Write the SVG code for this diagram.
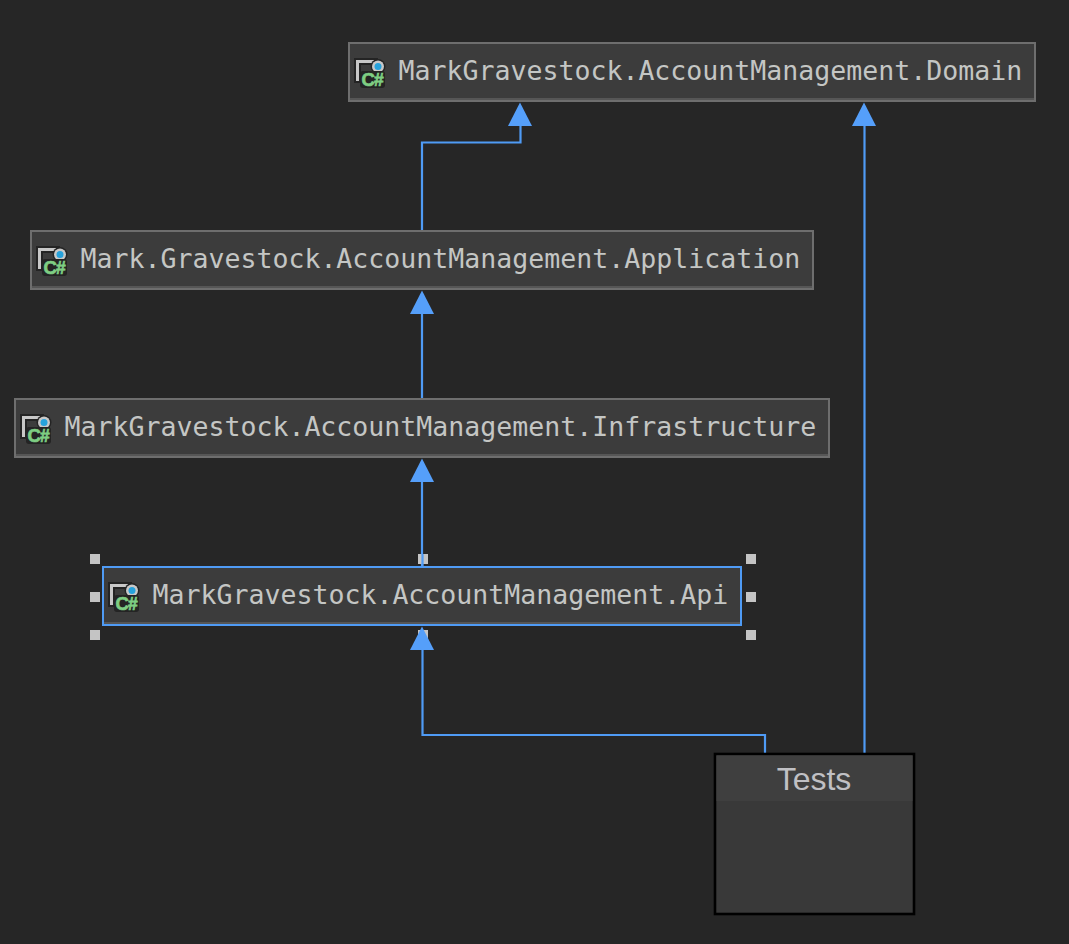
<svg xmlns="http://www.w3.org/2000/svg" width="1069" height="944" viewBox="0 0 1069 944">
<style>
.box{fill:#3c3c3c;stroke:#6e6e6e;stroke-width:2}
.sel{fill:#3c3c3c;stroke:#4f9bf5;stroke-width:2}
.shade{fill:#565656}
.lbl{font-family:"DejaVu Sans Mono","Liberation Mono",monospace;font-size:26.57px;fill:#c4c6c4}
.wire{fill:none;stroke:#4f9bf5;stroke-width:2.200}
.head{fill:#559ffa}
.handle{fill:#c4c4c4}
.ic{font-family:"Liberation Sans",Arial,sans-serif;font-weight:700;fill:#7ece83;stroke:#7ece83;stroke-width:.7px}
</style>
<defs>
<g id="cs">
<path d="M0 1H24V8H7V26H0Z" fill="#242424"/>
<path d="M2 3H20V6H5V24H2Z" fill="#c8c8c8"/>
<circle cx="24" cy="9.500" r="7.500" fill="#242424"/>
<circle cx="24" cy="9.500" r="6" fill="#c8c8c8"/>
<circle cx="24" cy="9.500" r="3.500" fill="#27a2dc"/>
<rect x="6" y="14" width="25" height="17" rx="3" fill="#242424"/>
<text class="ic" x="7.500" y="29" style="font-size:18.500px">C</text>
<text class="ic" x="20" y="28.500" style="font-size:17.500px">#</text>
</g>
</defs>
<rect width="1069" height="944" fill="#262626"/>
<g id="connectors">
<path class="wire" d="M422 231V142.500H520.500V122"/>
<path class="head" d="M520 102.500L532 126H508Z"/>
<path class="wire" d="M864.500 754V122"/>
<path class="head" d="M864 102.500L876 126H852Z"/>
<path class="wire" d="M422 399V310"/>
<path class="head" d="M422 290.500L434 314H410Z"/>
<path class="wire" d="M422 567V478"/>
<path class="head" d="M422 458.500L434 482H410Z"/>
<path class="wire" d="M765 754V735H422.500V646"/>
</g>
<g id="node-domain">
<rect class="box" x="349" y="43" width="686" height="58"/>
<rect class="shade" x="350" y="98" width="684" height="2"/>
<use href="#cs" x="354" y="57"/>
<text class="lbl" x="398.500" y="80">MarkGravestock.AccountManagement.Domain</text>
</g>
<g id="node-application">
<rect class="box" x="31" y="231" width="782" height="58"/>
<rect class="shade" x="32" y="286" width="780" height="2"/>
<use href="#cs" x="36" y="245"/>
<text class="lbl" x="80.500" y="268">Mark.Gravestock.AccountManagement.Application</text>
</g>
<g id="node-infrastructure">
<rect class="box" x="15" y="399" width="814" height="58"/>
<rect class="shade" x="16" y="454" width="812" height="2"/>
<use href="#cs" x="20" y="413"/>
<text class="lbl" x="64.500" y="436">MarkGravestock.AccountManagement.Infrastructure</text>
</g>
<g id="node-api">
<rect class="sel" x="103" y="567" width="638" height="58"/>
<rect class="shade" x="104" y="622" width="636" height="2"/>
<use href="#cs" x="108" y="581"/>
<text class="lbl" x="152.500" y="604">MarkGravestock.AccountManagement.Api</text>
<g id="selection-handles">
<rect class="handle" x="90" y="554" width="10" height="10"/>
<rect class="handle" x="418" y="554" width="10" height="10"/>
<rect class="handle" x="746" y="554" width="10" height="10"/>
<rect class="handle" x="90" y="592" width="10" height="10"/>
<rect class="handle" x="746" y="592" width="10" height="10"/>
<rect class="handle" x="90" y="630" width="10" height="10"/>
<rect class="handle" x="418" y="630" width="10" height="10"/>
<rect class="handle" x="746" y="630" width="10" height="10"/>
</g>
</g>
<path class="wire" d="M422.500 554V567"/>
<path class="head" d="M422 626.500L434 650H410Z"/>
<g id="node-tests">
<rect x="715" y="754" width="199" height="160" fill="#393939" stroke="#000" stroke-width="2.600"/>
<rect x="716.500" y="755.500" width="196" height="45.500" fill="#3f3f3f"/>
<text x="814" y="789.500" text-anchor="middle" style="font-family:'Liberation Sans',Arial,sans-serif;font-size:32px;fill:#c0c0c4">Tests</text>
</g>
</svg>
